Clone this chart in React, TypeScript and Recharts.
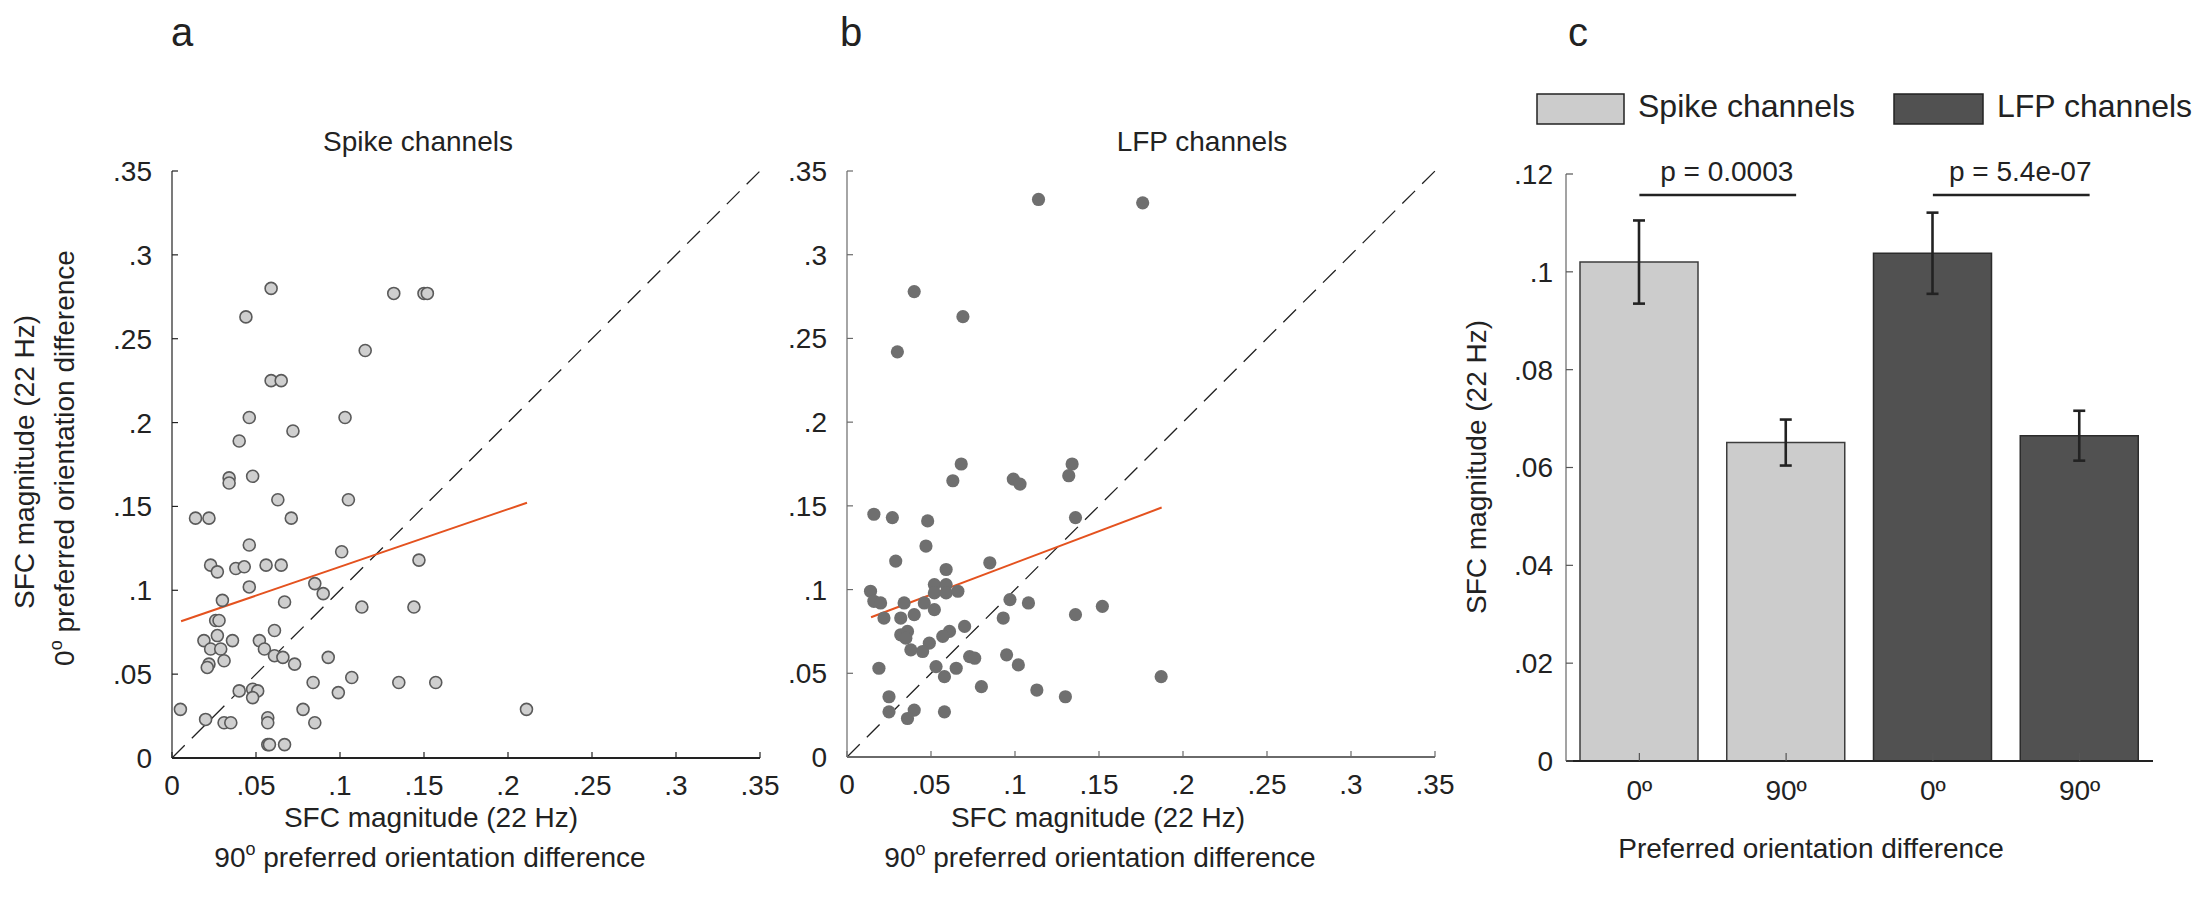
import React from 'react'
import {
  ScatterChart, Scatter, XAxis, YAxis, ReferenceLine,
  BarChart, Bar, Cell, ErrorBar,
} from 'recharts'

const font = '"Liberation Sans", Arial, sans-serif'
const ink = '#222'

// panel a: spike channels (x = 90º pref. orientation difference, y = 0º)
const spikePoints = [
  { x: 0.059, y: 0.280 }, { x: 0.044, y: 0.263 }, { x: 0.132, y: 0.277 }, { x: 0.150, y: 0.277 },
  { x: 0.152, y: 0.277 }, { x: 0.115, y: 0.243 }, { x: 0.059, y: 0.225 }, { x: 0.065, y: 0.225 },
  { x: 0.046, y: 0.203 }, { x: 0.103, y: 0.203 }, { x: 0.072, y: 0.195 }, { x: 0.040, y: 0.189 },
  { x: 0.034, y: 0.167 }, { x: 0.034, y: 0.164 }, { x: 0.048, y: 0.168 }, { x: 0.063, y: 0.154 },
  { x: 0.105, y: 0.154 }, { x: 0.014, y: 0.143 }, { x: 0.022, y: 0.143 }, { x: 0.071, y: 0.143 },
  { x: 0.046, y: 0.127 }, { x: 0.101, y: 0.123 }, { x: 0.023, y: 0.115 }, { x: 0.027, y: 0.111 },
  { x: 0.038, y: 0.113 }, { x: 0.043, y: 0.114 }, { x: 0.056, y: 0.115 }, { x: 0.065, y: 0.115 },
  { x: 0.147, y: 0.118 }, { x: 0.046, y: 0.102 }, { x: 0.085, y: 0.104 }, { x: 0.090, y: 0.098 },
  { x: 0.030, y: 0.094 }, { x: 0.067, y: 0.093 }, { x: 0.113, y: 0.090 }, { x: 0.144, y: 0.090 },
  { x: 0.026, y: 0.082 }, { x: 0.028, y: 0.082 }, { x: 0.061, y: 0.076 }, { x: 0.027, y: 0.073 },
  { x: 0.019, y: 0.070 }, { x: 0.036, y: 0.070 }, { x: 0.052, y: 0.070 }, { x: 0.023, y: 0.065 },
  { x: 0.029, y: 0.065 }, { x: 0.055, y: 0.065 }, { x: 0.061, y: 0.061 }, { x: 0.066, y: 0.060 },
  { x: 0.093, y: 0.060 }, { x: 0.031, y: 0.058 }, { x: 0.073, y: 0.056 }, { x: 0.022, y: 0.056 },
  { x: 0.021, y: 0.054 }, { x: 0.107, y: 0.048 }, { x: 0.084, y: 0.045 }, { x: 0.135, y: 0.045 },
  { x: 0.157, y: 0.045 }, { x: 0.040, y: 0.040 }, { x: 0.048, y: 0.041 }, { x: 0.051, y: 0.040 },
  { x: 0.048, y: 0.036 }, { x: 0.099, y: 0.039 }, { x: 0.005, y: 0.029 }, { x: 0.078, y: 0.029 },
  { x: 0.211, y: 0.029 }, { x: 0.020, y: 0.023 }, { x: 0.031, y: 0.021 }, { x: 0.035, y: 0.021 },
  { x: 0.057, y: 0.024 }, { x: 0.057, y: 0.021 }, { x: 0.085, y: 0.021 }, { x: 0.057, y: 0.008 },
  { x: 0.058, y: 0.008 }, { x: 0.067, y: 0.008 },
]
const spikeFit = [{ x: 0.0054, y: 0.0815 }, { x: 0.2113, y: 0.1522 }]

// panel b: LFP channels
const lfpPoints = [
  { x: 0.114, y: 0.333 }, { x: 0.176, y: 0.331 }, { x: 0.040, y: 0.278 }, { x: 0.069, y: 0.263 },
  { x: 0.030, y: 0.242 }, { x: 0.068, y: 0.175 }, { x: 0.134, y: 0.175 }, { x: 0.063, y: 0.165 },
  { x: 0.099, y: 0.166 }, { x: 0.103, y: 0.163 }, { x: 0.132, y: 0.168 }, { x: 0.016, y: 0.145 },
  { x: 0.027, y: 0.143 }, { x: 0.048, y: 0.141 }, { x: 0.136, y: 0.143 }, { x: 0.047, y: 0.126 },
  { x: 0.029, y: 0.117 }, { x: 0.085, y: 0.116 }, { x: 0.059, y: 0.112 }, { x: 0.052, y: 0.103 },
  { x: 0.059, y: 0.103 }, { x: 0.014, y: 0.099 }, { x: 0.052, y: 0.098 }, { x: 0.059, y: 0.098 },
  { x: 0.066, y: 0.099 }, { x: 0.016, y: 0.093 }, { x: 0.020, y: 0.092 }, { x: 0.034, y: 0.092 },
  { x: 0.046, y: 0.092 }, { x: 0.097, y: 0.094 }, { x: 0.108, y: 0.092 }, { x: 0.152, y: 0.090 },
  { x: 0.052, y: 0.088 }, { x: 0.040, y: 0.085 }, { x: 0.136, y: 0.085 }, { x: 0.022, y: 0.083 },
  { x: 0.032, y: 0.083 }, { x: 0.093, y: 0.083 }, { x: 0.070, y: 0.078 }, { x: 0.036, y: 0.075 },
  { x: 0.061, y: 0.075 }, { x: 0.032, y: 0.073 }, { x: 0.057, y: 0.072 }, { x: 0.035, y: 0.071 },
  { x: 0.049, y: 0.068 }, { x: 0.038, y: 0.064 }, { x: 0.045, y: 0.063 }, { x: 0.095, y: 0.061 },
  { x: 0.073, y: 0.060 }, { x: 0.076, y: 0.059 }, { x: 0.102, y: 0.055 }, { x: 0.019, y: 0.053 },
  { x: 0.053, y: 0.054 }, { x: 0.065, y: 0.053 }, { x: 0.058, y: 0.048 }, { x: 0.187, y: 0.048 },
  { x: 0.080, y: 0.042 }, { x: 0.113, y: 0.040 }, { x: 0.130, y: 0.036 }, { x: 0.025, y: 0.036 },
  { x: 0.025, y: 0.027 }, { x: 0.040, y: 0.028 }, { x: 0.058, y: 0.027 }, { x: 0.036, y: 0.023 },
]
const lfpFit = [{ x: 0.0143, y: 0.0835 }, { x: 0.1873, y: 0.149 }]

const unity = [{ x: 0, y: 0 }, { x: 0.35, y: 0.35 }]
const scatterTicks = [0, 0.05, 0.1, 0.15, 0.2, 0.25, 0.3, 0.35]
const scatterTickLabels = ['0', '.05', '.1', '.15', '.2', '.25', '.3', '.35']

// panel c: mean SFC magnitude +- s.e.m.
const barKeys = ['spike0', 'spike90', 'lfp0', 'lfp90']
const barTickLabels = ['0º', '90º', '0º', '90º']
const barMeans = [0.102, 0.0651, 0.1038, 0.0665]
const barErrs = [0.0085, 0.0047, 0.0083, 0.0051]
const barFills = ['#cccccc', '#cccccc', '#515151', '#515151']
const barTicks = [0, 0.02, 0.04, 0.06, 0.08, 0.1, 0.12]
const barTickLabelsY = ['0', '.02', '.04', '.06', '.08', '.1', '.12']
const sigY = 0.1157

const barData = barKeys.map((k, i) => ({ key: k, value: barMeans[i], err: barErrs[i] }))

const tickStyle = { fontSize: 28, fill: ink, fontFamily: font }

const SpikeDot = (p: any) => (
  <circle cx={p.cx} cy={p.cy} r={6} fill="#cfcfcf" stroke="#5a5a5a" strokeWidth={1.6} />
)
const LfpDot = (p: any) => <circle cx={p.cx} cy={p.cy} r={6.6} fill="#6f6f6f" />

function ScatterPanel({ points, fit, Dot, axis, left, width, margin }: any) {
  return (
    <div style={{ position: 'absolute', left, top: 0 }}>
      <ScatterChart width={width} height={915} margin={margin}>
        <XAxis
          type="number" dataKey="x" domain={[0, 0.35]} ticks={scatterTicks} interval={0}
          tickFormatter={(v: number, i: number) => scatterTickLabels[i]}
          axisLine={{ stroke: axis, strokeWidth: 2 }} tickLine={{ stroke: axis, strokeWidth: 1.2 }}
          tickSize={-6} tickMargin={23} tick={tickStyle} height={60} allowDataOverflow
        />
        <YAxis
          type="number" dataKey="y" domain={[0, 0.35]} ticks={scatterTicks} interval={0}
          tickFormatter={(v: number, i: number) => scatterTickLabels[i]}
          axisLine={{ stroke: axis, strokeWidth: 1.2 }} tickLine={{ stroke: axis, strokeWidth: 1.2 }}
          tickSize={-6} tickMargin={26} tick={tickStyle} width={60} allowDataOverflow
        />
        <ReferenceLine segment={unity} stroke={ink} strokeWidth={1.3} strokeDasharray="18 10" ifOverflow="visible" />
        <Scatter data={points} shape={Dot} isAnimationActive={false} />
        <ReferenceLine segment={fit} stroke="#e4521f" strokeWidth={2} ifOverflow="visible" />
      </ScatterChart>
    </div>
  )
}

// significance bracket: runs a little past the second bar centre, as in the figure
const SigLine = (p: any) => (
  <line x1={p.x1} y1={p.y1} x2={p.x2 + 10} y2={p.y2} stroke={ink} strokeWidth={2.6} />
)

function BarPanel() {
  const sigLabel = (value: string) => ({
    content: (p: any) => {
      const vb = p.viewBox || {}
      return (
        <text
          x={vb.x + (vb.width || 0) / 2 + 14} y={vb.y - 14} textAnchor="middle"
          fontSize={28} fill={ink} fontFamily={font}
        >
          {value}
        </text>
      )
    },
  })
  return (
    <div style={{ position: 'absolute', left: 1480, top: 0 }}>
      <BarChart width={721} height={915} data={barData} margin={{ top: 174, right: 48, bottom: 94, left: 26 }} barSize={118}>
        <XAxis
          dataKey="key" tickFormatter={(v: string, i: number) => barTickLabels[i]}
          axisLine={{ stroke: ink, strokeWidth: 2 }} tickLine={{ stroke: '#555', strokeWidth: 1.2 }}
          tickSize={-8} tickMargin={27} tick={tickStyle} height={60}
        />
        <YAxis
          domain={[0, 0.12]} ticks={barTicks} interval={0}
          tickFormatter={(v: number, i: number) => barTickLabelsY[i]}
          axisLine={{ stroke: '#666', strokeWidth: 1.2 }} tickLine={{ stroke: '#555', strokeWidth: 1.2 }}
          tickSize={-7} tickMargin={20} tick={tickStyle} width={60} allowDataOverflow
        />
        <Bar dataKey="value" isAnimationActive={false} strokeWidth={1.5}>
          {barData.map((d, i) => (
            <Cell key={d.key} fill={barFills[i]} stroke={i < 2 ? '#3c3c3c' : '#2c2c2c'} />
          ))}
          <ErrorBar dataKey="err" width={6} stroke={ink} strokeWidth={2.6} />
        </Bar>
        <ReferenceLine
          segment={[{ x: barKeys[0], y: sigY }, { x: barKeys[1], y: sigY }]}
          shape={SigLine} ifOverflow="visible" label={sigLabel('p = 0.0003')}
        />
        <ReferenceLine
          segment={[{ x: barKeys[2], y: sigY }, { x: barKeys[3], y: sigY }]}
          shape={SigLine} ifOverflow="visible" label={sigLabel('p = 5.4e-07')}
        />
      </BarChart>
    </div>
  )
}

function Labels() {
  const t = { fontFamily: font, fill: ink }
  return (
    <svg width={2201} height={915} style={{ position: 'absolute', left: 0, top: 0, pointerEvents: 'none' }}>
      <text x={182} y={46} fontSize={40} textAnchor="middle" {...t}>a</text>
      <text x={851} y={46} fontSize={40} textAnchor="middle" {...t}>b</text>
      <text x={1578} y={46} fontSize={40} textAnchor="middle" {...t}>c</text>

      <text x={418} y={151} fontSize={28} textAnchor="middle" {...t}>Spike channels</text>
      <text x={1202} y={151} fontSize={28} textAnchor="middle" {...t}>LFP channels</text>

      <text transform="translate(34,462) rotate(-90)" fontSize={28} textAnchor="middle" {...t}>SFC magnitude (22 Hz)</text>
      <text transform="translate(74,458) rotate(-90)" fontSize={28} textAnchor="middle" {...t}>
        0<tspan fontSize={18} dy={-12}>o</tspan><tspan dy={12}> preferred orientation difference</tspan>
      </text>

      <text x={431} y={827} fontSize={28} textAnchor="middle" {...t}>SFC magnitude (22 Hz)</text>
      <text x={430} y={867} fontSize={28} textAnchor="middle" {...t}>
        90<tspan fontSize={18} dy={-12}>o</tspan><tspan dy={12}> preferred orientation difference</tspan>
      </text>
      <text x={1098} y={827} fontSize={28} textAnchor="middle" {...t}>SFC magnitude (22 Hz)</text>
      <text x={1100} y={867} fontSize={28} textAnchor="middle" {...t}>
        90<tspan fontSize={18} dy={-12}>o</tspan><tspan dy={12}> preferred orientation difference</tspan>
      </text>

      <text transform="translate(1486,467) rotate(-90)" fontSize={28} textAnchor="middle" {...t}>SFC magnitude (22 Hz)</text>
      <text x={1811} y={858} fontSize={28} textAnchor="middle" {...t}>Preferred orientation difference</text>

      <rect x={1537} y={94} width={87} height={30} fill={barFills[0]} stroke={ink} strokeWidth={1.5} />
      <text x={1638} y={117} fontSize={32} {...t}>Spike channels</text>
      <rect x={1894} y={94} width={89} height={30} fill={barFills[2]} stroke={ink} strokeWidth={1.5} />
      <text x={1997} y={117} fontSize={32} {...t}>LFP channels</text>
    </svg>
  )
}

export default function App() {
  return (
    <div style={{ position: 'absolute', left: 0, top: 0, width: 2201, height: 915, background: '#fff', overflow: 'hidden' }}>
      <ScatterPanel
        points={spikePoints} fit={spikeFit} Dot={SpikeDot} axis={ink}
        left={0} width={800} margin={{ top: 171, right: 40, bottom: 97, left: 112 }}
      />
      <ScatterPanel
        points={lfpPoints} fit={lfpFit} Dot={LfpDot} axis="#6a6a6a"
        left={760} width={720} margin={{ top: 171, right: 45, bottom: 98, left: 27 }}
      />
      <BarPanel />
      <Labels />
    </div>
  )
}
